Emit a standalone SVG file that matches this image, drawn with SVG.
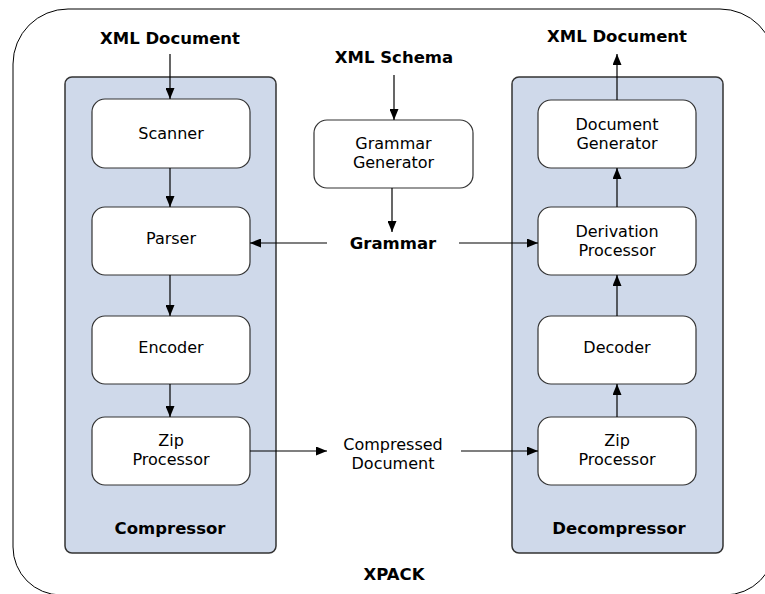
<svg xmlns="http://www.w3.org/2000/svg" width="765" height="594" viewBox="0 0 765 594">
  <style>
    .frame { fill: none; stroke: #000; stroke-width: 1; }
    .panel { fill: #CFD9EA; stroke: #333; stroke-width: 1.5; }
    .box { fill: #fff; stroke: #333; stroke-width: 1.2; }
    .lbl { font-family: "DejaVu Sans", Verdana, sans-serif; font-size: 16px; fill: #000; text-anchor: middle; }
    .bold { font-family: "DejaVu Sans", Verdana, sans-serif; font-size: 16.5px; font-weight: bold; fill: #000; text-anchor: middle; }
    .edge { stroke: #000; stroke-width: 1.2; fill: none; marker-end: url(#arrow); }
  </style>
  <defs>
    <marker id="arrow" markerUnits="userSpaceOnUse" markerWidth="11" markerHeight="9" refX="11" refY="4.5" orient="auto">
      <path d="M0,0 L11,4.5 L0,9 Z" fill="#000"/>
    </marker>
  </defs>
  <rect width="765" height="594" fill="#fff"/>

  <!-- outer system boundary -->
  <g id="xpack">
    <path class="frame" d="M68,9 H720 A55,55 0 0 1 775,64 V545 A50,50 0 0 1 725,595 H61 A48,48 0 0 1 13,547 V64 A55,55 0 0 1 68,9 Z"/>
    <text class="bold" x="394" y="580">XPACK</text>
  </g>

  <!-- compressor pipeline -->
  <g id="compressor">
    <rect class="panel" x="65" y="77" width="211" height="476" rx="7"/>
    <text class="bold" x="170" y="534">Compressor</text>
  </g>
  <g id="scanner">
    <rect class="box" x="92" y="99" width="158" height="69" rx="13"/>
    <text class="lbl" x="171" y="139">Scanner</text>
  </g>
  <g id="parser">
    <rect class="box" x="92" y="207" width="158" height="68" rx="13"/>
    <text class="lbl" x="171" y="244">Parser</text>
  </g>
  <g id="encoder">
    <rect class="box" x="92" y="316" width="158" height="68" rx="13"/>
    <text class="lbl" x="171" y="353">Encoder</text>
  </g>
  <g id="zip-compress">
    <rect class="box" x="92" y="417" width="158" height="68" rx="13"/>
    <text class="lbl" x="171" y="446">Zip</text>
    <text class="lbl" x="171" y="465">Processor</text>
  </g>

  <!-- decompressor pipeline -->
  <g id="decompressor">
    <rect class="panel" x="512" y="77" width="211" height="476" rx="7"/>
    <text class="bold" x="619" y="534">Decompressor</text>
  </g>
  <g id="document-generator">
    <rect class="box" x="538" y="100" width="158" height="68" rx="13"/>
    <text class="lbl" x="617" y="130">Document</text>
    <text class="lbl" x="617" y="149">Generator</text>
  </g>
  <g id="derivation-processor">
    <rect class="box" x="538" y="207" width="158" height="68" rx="13"/>
    <text class="lbl" x="617" y="237">Derivation</text>
    <text class="lbl" x="617" y="256">Processor</text>
  </g>
  <g id="decoder">
    <rect class="box" x="538" y="316" width="158" height="68" rx="13"/>
    <text class="lbl" x="617" y="353">Decoder</text>
  </g>
  <g id="zip-decompress">
    <rect class="box" x="538" y="417" width="158" height="68" rx="13"/>
    <text class="lbl" x="617" y="446">Zip</text>
    <text class="lbl" x="617" y="465">Processor</text>
  </g>

  <!-- shared grammar generation -->
  <g id="grammar-generator">
    <rect class="box" x="314" y="120" width="159" height="68" rx="13"/>
    <text class="lbl" x="393.5" y="149">Grammar</text>
    <text class="lbl" x="393.5" y="168">Generator</text>
  </g>

  <!-- free-standing labels -->
  <g id="xml-document-in"><text class="bold" x="170" y="44">XML Document</text></g>
  <g id="xml-schema"><text class="bold" x="394" y="63">XML Schema</text></g>
  <g id="xml-document-out"><text class="bold" x="617" y="42">XML Document</text></g>
  <g id="grammar"><text class="bold" x="393" y="249">Grammar</text></g>
  <g id="compressed-document">
    <text class="lbl" x="393" y="450">Compressed</text>
    <text class="lbl" x="393" y="469">Document</text>
  </g>

  <!-- connectors -->
  <g id="connectors">
    <line class="edge" x1="170" y1="54" x2="170" y2="99"/>
    <line class="edge" x1="170" y1="168" x2="170" y2="207"/>
    <line class="edge" x1="170" y1="275" x2="170" y2="316"/>
    <line class="edge" x1="170" y1="384" x2="170" y2="417"/>
    <line class="edge" x1="327" y1="243" x2="250" y2="243"/>
    <line class="edge" x1="459" y1="243" x2="538" y2="243"/>
    <line class="edge" x1="394" y1="75" x2="394" y2="120"/>
    <line class="edge" x1="392" y1="188" x2="392" y2="232"/>
    <line class="edge" x1="250" y1="451" x2="327" y2="451"/>
    <line class="edge" x1="461" y1="451" x2="538" y2="451"/>
    <line class="edge" x1="617" y1="417" x2="617" y2="384"/>
    <line class="edge" x1="617" y1="316" x2="617" y2="275"/>
    <line class="edge" x1="617" y1="207" x2="617" y2="168"/>
    <line class="edge" x1="617" y1="100" x2="617" y2="54"/>
  </g>
</svg>
